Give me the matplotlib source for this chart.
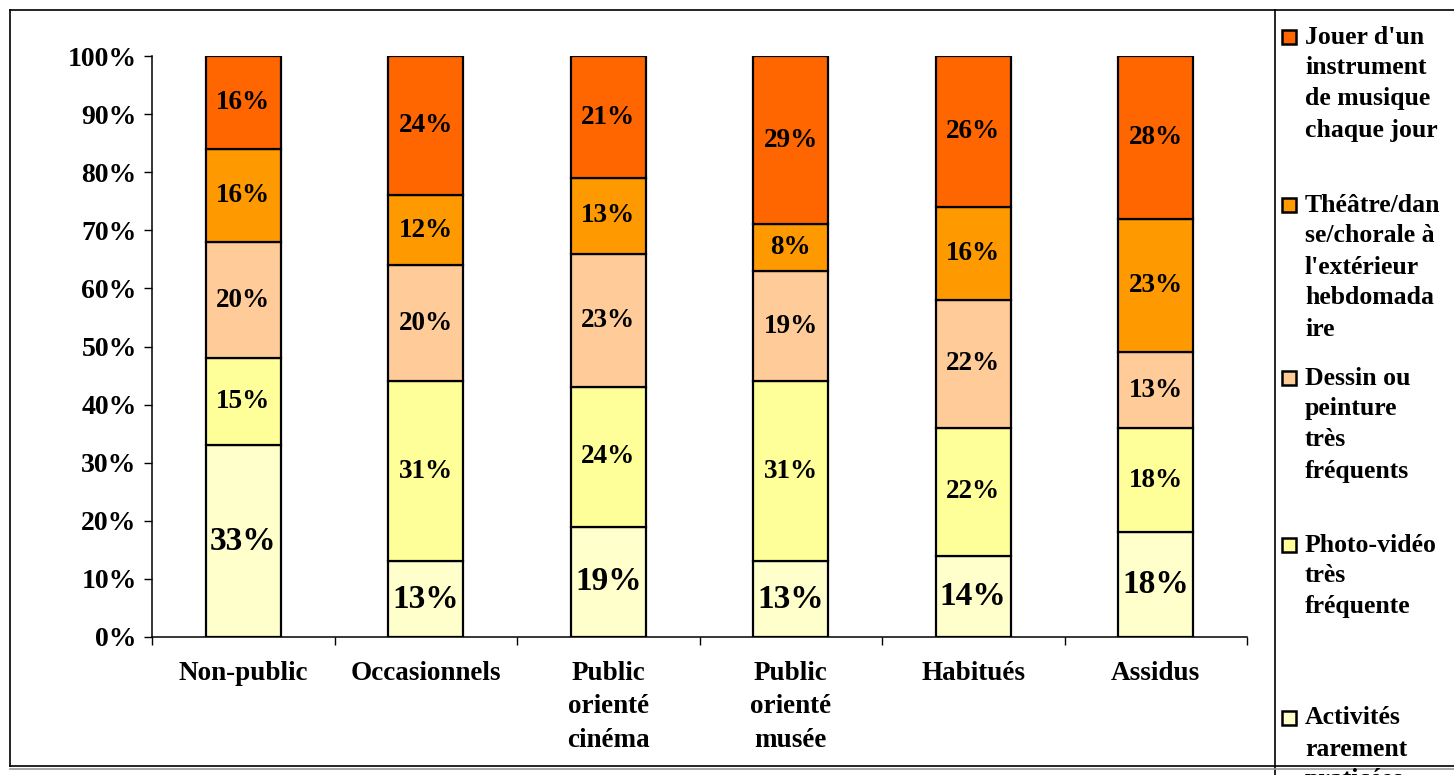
import matplotlib
matplotlib.use("Agg")
from matplotlib import pyplot as plt
from matplotlib.patches import Rectangle
from matplotlib.lines import Line2D
import numpy as np

# categories (x axis) and series, stacked bottom -> top
categories = ["Non-public", "Occasionnels", "Public\norienté\ncinéma",
              "Public\norienté\nmusée", "Habitués", "Assidus"]
rarement = [33, 13, 19, 13, 14, 18]
photo = [15, 31, 24, 31, 22, 18]
dessin = [20, 20, 23, 19, 22, 13]
theatre = [16, 12, 13, 8, 16, 23]
instrument = [16, 24, 21, 29, 26, 28]

series = [rarement, photo, dessin, theatre, instrument]
colors = ["#FFFFCC", "#FFFF99", "#FFCC99", "#FF9900", "#FF6600"]
legend_labels = [
    "Jouer d'un\ninstrument\nde musique\nchaque jour",
    "Théâtre/dan\nse/chorale à\nl'extérieur\nhebdomada\nire",
    "Dessin ou\npeinture\ntrès\nfréquents",
    "Photo-vidéo\ntrès\nfréquente",
    "Activités\nrarement\npraticées",
]
legend_colors = colors[::-1]

plt.rcParams['font.family'] = ['Liberation Serif', 'DejaVu Serif']
plt.rcParams['font.weight'] = 'bold'

W, H = 1454, 775
fig = plt.figure(figsize=(W / 100, H / 100), dpi=100)
fig.patch.set_facecolor('white')

def fx(px): return px / W
def fy(py): return 1 - py / H

ax = fig.add_axes([fx(152), fy(637), fx(1247) - fx(152), fy(56) - fy(637)])

x = np.arange(len(categories))
bottom = np.zeros(len(categories))
for i, (vals, col) in enumerate(zip(series, colors)):
    vals = np.array(vals, dtype=float)
    ax.bar(x, vals, width=0.41, bottom=bottom, color=col,
           edgecolor='black', linewidth=1.6, zorder=2)
    for xi, b, v in zip(x, bottom, vals):
        ax.text(xi, b + v / 2, f"{int(v)}%", ha='center', va='center',
                fontsize=24 if i == 0 else 19.5, fontweight='bold', zorder=3)
    bottom += vals

ax.set_xlim(-0.5, len(categories) - 0.5)
ax.set_ylim(0, 100)
ax.set_yticks(np.arange(0, 101, 10))
ax.set_yticklabels([f"{v}%" for v in range(0, 101, 10)], fontsize=20,
                   fontweight='bold')
ax.set_xticks(x)
ax.set_xticklabels(categories, fontsize=19.5, fontweight='bold',
                   linespacing=1.45, va='top')
ax.set_xticks(np.arange(-0.5, len(categories), 1), minor=True)
ax.tick_params(axis='x', which='major', length=0, pad=17)
ax.tick_params(axis='x', which='minor', length=6, width=1, direction='out')
ax.tick_params(axis='y', which='major', length=6, width=1, direction='out', pad=5)
for s in ['top', 'right']:
    ax.spines[s].set_visible(False)
for s in ['left', 'bottom']:
    ax.spines[s].set_linewidth(1.1)
ax.set_facecolor('none')

# outer chart frame and legend separator
frame_lines = [
    ([fx(10), fx(W)], [fy(10), fy(10)]),
    ([fx(10), fx(10)], [fy(10), fy(766)]),
    ([fx(10), fx(W)], [fy(766), fy(766)]),
    ([fx(1275), fx(1275)], [fy(10), fy(H)]),
]
for xs, ys in frame_lines:
    fig.add_artist(Line2D(xs, ys, color='black', linewidth=1.2))
fig.add_artist(Line2D([fx(10), fx(W)], [fy(768.5), fy(768.5)],
                      color='#999999', linewidth=1.2))

# legend, drawn by hand so its text runs past the right edge
entry_tops = [37, 205, 378, 545, 718]
line_step = 31
sq = 14
for lab, col, y0 in zip(legend_labels, legend_colors, entry_tops):
    fig.add_artist(Rectangle((fx(1282), fy(y0 + sq / 2)), fx(sq), sq / H,
                             facecolor=col, edgecolor='black', linewidth=1.8))
    for k, line in enumerate(lab.split("\n")):
        fig.text(fx(1305), fy(y0 + k * line_step), line, ha='left',
                 va='center', fontsize=18.5, fontweight='bold')

fig.savefig("out.png", dpi=100)
